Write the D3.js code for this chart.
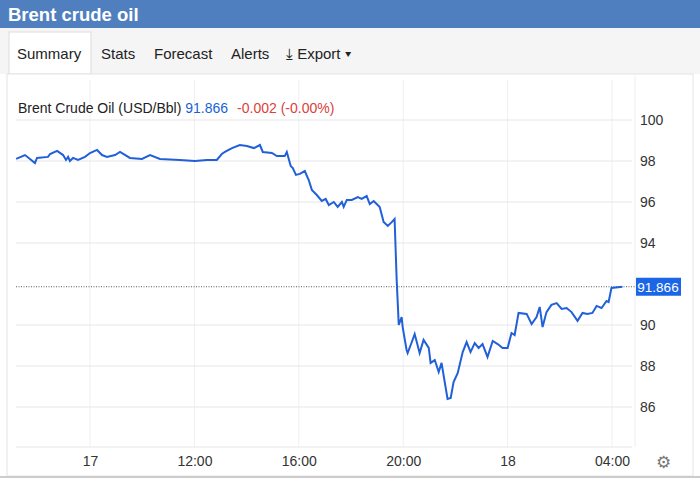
<!DOCTYPE html>
<html><head><meta charset="utf-8">
<script src="https://cdn.jsdelivr.net/npm/d3@7"></script>
<style>
body{margin:0;background:#fff;font-family:"Liberation Sans",Arial,sans-serif;}
</style></head>
<body><div id="chart"></div>
<script>
// hours relative to "17" label (index scale, trading hours)
var hours = [-2.83,-2.49,-2.30,-2.11,-2.03,-1.61,-1.53,-1.26,-1.03,-0.92,-0.84,-0.77,-0.65,-0.46,-0.19,0,0.27,0.46,0.65,0.96,1.15,1.53,1.99,2.30,2.68,3.44,4.02,4.48,4.86,5.05,5.17,5.44,5.74,6.01,6.28,6.51,6.62,6.97,7.16,7.46,7.54,7.69,7.77,7.89,8.04,8.23,8.38,8.50,8.69,8.88,9.03,9.15,9.34,9.49,9.65,9.72,9.84,10.03,10.26,10.41,10.60,10.72,10.87,11.10,11.25,11.41,11.56,11.67,11.75,11.83,11.94,11.98,12.13,12.17,12.33,12.44,12.63,12.78,12.98,13.05,13.21,13.36,13.47,13.59,13.70,13.82,13.93,14.09,14.28,14.43,14.58,14.74,14.89,15.04,15.23,15.43,15.62,15.81,16.00,16.15,16.27,16.42,16.73,16.92,17.11,17.23,17.34,17.49,17.68,17.88,18.07,18.26,18.45,18.68,18.87,19.06,19.25,19.41,19.60,19.79,19.87,19.98,20.40];
var prices = [98.10,98.29,98.10,97.90,98.15,98.20,98.34,98.49,98.29,98.05,98.20,98.00,98.15,98.05,98.20,98.39,98.54,98.29,98.20,98.29,98.44,98.15,98.10,98.29,98.10,98.05,98.00,98.05,98.05,98.34,98.44,98.63,98.78,98.73,98.63,98.78,98.44,98.39,98.24,98.24,98.44,97.76,97.66,97.32,97.37,97.51,97.07,96.59,96.34,96.05,96.15,95.85,96.00,95.76,96.00,95.76,96.10,96.10,96.24,96.15,96.29,95.90,96.05,95.76,95.02,94.83,95.02,95.17,92.20,90.00,90.39,89.90,88.78,88.63,89.17,89.56,88.63,89.27,88.88,88.15,88.29,87.71,88.15,87.22,86.39,86.44,87.22,87.66,88.68,89.17,88.68,89.12,88.88,89.07,88.44,89.22,89.07,88.88,88.88,89.61,89.51,90.59,90.54,90.05,90.39,90.88,89.90,90.63,90.98,91.07,90.78,90.83,90.63,90.20,90.59,90.54,90.59,90.93,90.83,91.17,91.12,91.81,91.866];
var xTicks = [0,4,8,12,16,20];
var xTickLabels = ["17","12:00","16:00","20:00","18","04:00"];
var yTicks = [86,88,90,92,94,96,98,100];
var lastPrice = 91.866;
var tabs = ["Summary","Stats","Forecast","Alerts"];

var W = 700, H = 482;
var svg = d3.select("#chart").append("svg").attr("width", W).attr("height", H);

// header
svg.append("rect").attr("width", W).attr("height", 28).attr("fill", "#4f7fbe");
svg.append("text").attr("x", 8).attr("y", 21).attr("fill", "#fff")
  .attr("font-size", 18.5).attr("font-weight", "bold").text("Brent crude oil");

// tab bar
svg.append("rect").attr("y", 28).attr("width", W).attr("height", 46).attr("fill", "#f5f5f5");
svg.append("rect").attr("x", 9).attr("y", 32).attr("width", 82).attr("height", 42)
  .attr("fill", "#fff").attr("stroke", "#ddd");
var tabX = [17, 101, 154, 231];
tabs.forEach(function(t, i) {
  svg.append("text").attr("x", tabX[i]).attr("y", 59).attr("font-size", 15).attr("fill", "#222").text(t);
});
svg.append("text").attr("x", 286).attr("y", 59).attr("font-size", 15).attr("fill", "#222").text("\u2913 Export \u25BE");

// panel
svg.append("rect").attr("x", 7).attr("y", 74).attr("width", 686).attr("height", 402)
  .attr("fill", "#fff").attr("stroke", "#e4e4e4");
svg.append("line").attr("x1", 0).attr("x2", W).attr("y1", 477).attr("y2", 477).attr("stroke", "#ccc").attr("stroke-width", 2);

var x = d3.scaleLinear().domain([0, 20]).range([90, 612]);
var y = d3.scaleLinear().domain([86, 100]).range([407, 120]);
var left = 16, right = 632, bottom = 447;

var g = svg.append("g");
g.selectAll(".vg").data(xTicks).enter().append("line")
  .attr("x1", x).attr("x2", x).attr("y1", 80).attr("y2", bottom)
  .attr("stroke", "#eef0f3");
g.selectAll(".hg").data(yTicks.filter(function(d){ return d !== 92; })).enter().append("line")
  .attr("x1", left).attr("x2", right).attr("y1", y).attr("y2", y)
  .attr("stroke", "#e6e6e6");
g.append("line").attr("x1", left).attr("x2", right).attr("y1", bottom).attr("y2", bottom).attr("stroke", "#e6e6e6");
g.append("line").attr("x1", right + 3).attr("x2", right + 3).attr("y1", 76).attr("y2", bottom)
  .attr("stroke", "#eeeeee");

// axes
var yAxis = d3.axisRight(y).tickValues(yTicks.filter(function(d){ return d !== 92; })).tickSize(0).tickPadding(8);
svg.append("g").attr("transform", "translate(" + right + ",0)").call(yAxis)
  .call(function(s){ s.select(".domain").remove(); s.selectAll("text").attr("font-size", 14).attr("fill", "#333").attr("font-family", "Liberation Sans, Arial"); });
var xAxis = d3.axisBottom(x).tickValues(xTicks).tickFormat(function(d, i){ return xTickLabels[i]; }).tickSize(0).tickPadding(9);
svg.append("g").attr("transform", "translate(0," + bottom + ")").call(xAxis)
  .call(function(s){ s.select(".domain").remove(); s.selectAll("text").attr("font-size", 14).attr("fill", "#333").attr("font-family", "Liberation Sans, Arial"); });

// last price line
svg.append("line").attr("x1", left).attr("x2", right + 3).attr("y1", y(lastPrice)).attr("y2", y(lastPrice))
  .attr("stroke", "#333").attr("stroke-dasharray", "1,1.5").attr("stroke-width", 0.8);

// series
var pts = hours.map(function(h, i){ return [h, prices[i]]; });
svg.append("path").datum(pts)
  .attr("d", d3.line().x(function(d){ return x(d[0]); }).y(function(d){ return y(d[1]); }))
  .attr("fill", "none").attr("stroke", "#2160d8").attr("stroke-width", 2);

// price tag
svg.append("rect").attr("x", 636).attr("y", y(lastPrice) - 9).attr("width", 45).attr("height", 18).attr("fill", "#1a66e6");
svg.append("text").attr("x", 658).attr("y", y(lastPrice) + 5).attr("text-anchor", "middle")
  .attr("fill", "#fff").attr("font-size", 13.5).text(lastPrice.toFixed(3));

// legend
var leg = svg.append("text").attr("x", 18).attr("y", 113).attr("font-size", 14);
leg.append("tspan").attr("fill", "#222").text("Brent Crude Oil (USD/Bbl) ");
leg.append("tspan").attr("fill", "#1a5fd6").text(lastPrice.toFixed(3));
leg.append("tspan").attr("fill", "#d9413b").attr("dx", 9).text("-0.002 (-0.00%)");

// gear
svg.append("text").attr("x", 663).attr("y", 468).attr("text-anchor", "middle").attr("font-size", 17).attr("fill", "#777").text("\u2699");
</script></body></html>
